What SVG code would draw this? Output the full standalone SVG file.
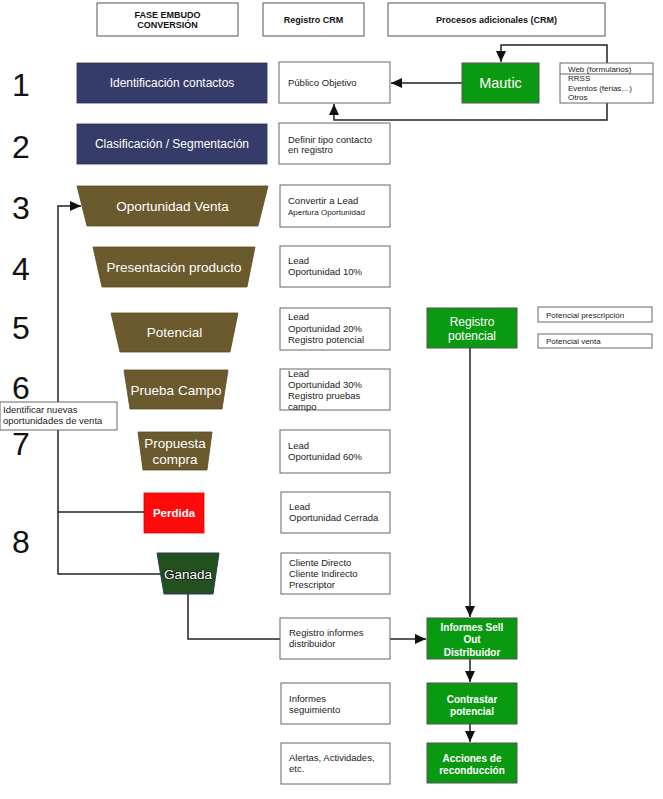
<svg xmlns="http://www.w3.org/2000/svg" width="663" height="799" viewBox="0 0 663 799">
<defs>
<marker id="arr" markerUnits="userSpaceOnUse" markerWidth="11" markerHeight="10" refX="11" refY="5" orient="auto">
<path d="M0,0 L11,5 L0,10 z" fill="#111"/>
</marker>
<style>
text{font-family:"Liberation Sans",Arial,sans-serif}
.hdr{fill:#fff;stroke:#555;stroke-width:1}
.ht{font-size:9px;font-weight:bold;fill:#111;text-anchor:middle}
.num{font-size:32px;fill:#111}
.navy{fill:#363c69;stroke:#2a2f55;stroke-width:0.8}
.brown{fill:#6b5a2d;stroke:#5a4b22;stroke-width:0.8}
.green{fill:#0a9a12;stroke:#555;stroke-width:1}
.box{fill:#fff;stroke:#666;stroke-width:1}
.nt{fill:#fff;text-anchor:middle}
.bt{font-size:9.5px;fill:#222}
.st{font-size:8px;fill:#222}
.gt{font-size:10px;font-weight:bold;fill:#fff;text-anchor:middle}
.conn{fill:none;stroke:#222;stroke-width:1.5}
</style>
</defs>

<g id="headers">
<rect class="hdr" x="97" y="3" width="141" height="33"/>
<text class="ht" x="167.5" y="18">FASE EMBUDO</text>
<text class="ht" x="167.5" y="28">CONVERSIÓN</text>
<rect class="hdr" x="263" y="3" width="101" height="33"/>
<text class="ht" x="313.5" y="23">Registro CRM</text>
<rect class="hdr" x="388" y="3" width="217" height="33"/>
<text class="ht" x="496.5" y="23">Procesos adicionales (CRM)</text>
</g>

<g id="numbers">
<text class="num" x="12" y="96">1</text>
<text class="num" x="12" y="158">2</text>
<text class="num" x="12" y="219">3</text>
<text class="num" x="12" y="280">4</text>
<text class="num" x="12" y="339">5</text>
<text class="num" x="12" y="399">6</text>
<text class="num" x="12" y="455">7</text>
<text class="num" x="12" y="553">8</text>
</g>

<g id="connectors">
<path class="conn" d="M462,83 H391" marker-end="url(#arr)"/>
<path class="conn" d="M607,63 V45 H501 V62" marker-end="url(#arr)"/>
<path class="conn" d="M607,103 V120 H334 V104" marker-end="url(#arr)"/>
<path class="conn" d="M162,574 H58 V206 H81" marker-end="url(#arr)"/>
<path class="conn" d="M144,512 H58"/>
<path class="conn" d="M188,594 V639 H280"/>
<path class="conn" d="M390,639 H426" marker-end="url(#arr)"/>
<path class="conn" d="M470,348 V617" marker-end="url(#arr)"/>
<path class="conn" d="M470,659 V682" marker-end="url(#arr)"/>
<path class="conn" d="M470,724 V742" marker-end="url(#arr)"/>
</g>

<g id="n-identificacion">
<rect class="navy" x="77" y="63" width="190" height="40"/>
<text class="nt" x="172" y="87" font-size="12">Identificación contactos</text>
</g>
<g id="n-clasificacion">
<rect class="navy" x="77" y="124" width="190" height="40"/>
<text class="nt" x="172" y="148" font-size="12">Clasificación / Segmentación</text>
</g>
<g id="n-oportunidad">
<polygon class="brown" points="77,186 268,186 258,226 87,226"/>
<text class="nt" x="172.5" y="211" font-size="13.5">Oportunidad Venta</text>
</g>
<g id="n-presentacion">
<polygon class="brown" points="93,247 255,247 247,287 102,287"/>
<text class="nt" x="174" y="272" font-size="13.5">Presentación producto</text>
</g>
<g id="n-potencial">
<polygon class="brown" points="111,313 238,313 230,352 120,352"/>
<text class="nt" x="174.5" y="337" font-size="13.5">Potencial</text>
</g>
<g id="n-prueba">
<polygon class="brown" points="124,370 228,370 222,409 130,409"/>
<text class="nt" x="176" y="395" font-size="13.5">Prueba Campo</text>
</g>
<g id="n-propuesta">
<polygon class="brown" points="138,432 212,432 207,470 143,470"/>
<text class="nt" x="175" y="448" font-size="13.5">Propuesta</text>
<text class="nt" x="175" y="464" font-size="13.5">compra</text>
</g>
<g id="n-perdida">
<rect x="144" y="493" width="60" height="40" fill="#ff0a0a" stroke="#d00" stroke-width="0.8"/>
<text class="nt" x="174" y="517" font-size="11.5" font-weight="bold">Perdida</text>
</g>
<g id="n-ganada">
<polygon points="157,553 219,553 213,594 164,594" fill="#22501f" stroke="#2a3d5c" stroke-width="1"/>
<text class="nt" x="188" y="579" font-size="13.5" stroke="#142014" stroke-width="1.6" paint-order="stroke fill" stroke-linejoin="round">Ganada</text>
</g>

<g id="n-identificar">
<rect class="box" x="0" y="402" width="117" height="28"/>
<text class="bt" x="3" y="413">Identificar nuevas</text>
<text class="bt" x="3" y="424">oportunidades de venta</text>
</g>

<g id="c-publico">
<rect class="box" x="279" y="62" width="111" height="41"/>
<text class="bt" x="288" y="86">Público Objetivo</text>
</g>
<g id="c-definir">
<rect class="box" x="279" y="123" width="111" height="41"/>
<text class="bt" x="288" y="142.5">Definir tipo contacto</text>
<text class="bt" x="288" y="152.5">en registro</text>
</g>
<g id="c-convertir">
<rect class="box" x="280" y="185" width="110" height="42"/>
<text class="bt" x="288" y="204">Convertir a Lead</text>
<text class="st" x="288" y="215">Apertura Oportunidad</text>
</g>
<g id="c-op10">
<rect class="box" x="280" y="246" width="110" height="41"/>
<text class="bt" x="288" y="264">Lead</text>
<text class="bt" x="288" y="275">Oportunidad 10%</text>
</g>
<g id="c-op20">
<rect class="box" x="280" y="308" width="110" height="42"/>
<text class="bt" x="288" y="320">Lead</text>
<text class="bt" x="288" y="332">Oportunidad 20%</text>
<text class="bt" x="288" y="343">Registro potencial</text>
</g>
<g id="c-op30">
<rect class="box" x="280" y="369" width="110" height="41"/>
<text class="bt" x="288" y="377">Lead</text>
<text class="bt" x="288" y="388">Oportunidad 30%</text>
<text class="bt" x="288" y="399">Registro pruebas</text>
<text class="bt" x="288" y="410">campo</text>
</g>
<g id="c-op60">
<rect class="box" x="280" y="430" width="110" height="43"/>
<text class="bt" x="288" y="449">Lead</text>
<text class="bt" x="288" y="460">Oportunidad 60%</text>
</g>
<g id="c-cerrada">
<rect class="box" x="281" y="492" width="109" height="41"/>
<text class="bt" x="289" y="510">Lead</text>
<text class="bt" x="289" y="521">Oportunidad Cerrada</text>
</g>
<g id="c-cliente">
<rect class="box" x="281" y="553" width="109" height="41"/>
<text class="bt" x="289" y="566">Cliente Directo</text>
<text class="bt" x="289" y="577">Cliente Indirecto</text>
<text class="bt" x="289" y="588">Prescriptor</text>
</g>
<g id="c-registro-informes">
<rect class="box" x="280" y="618" width="110" height="41"/>
<text class="bt" x="289" y="636">Registro informes</text>
<text class="bt" x="289" y="647">distribuidor</text>
</g>
<g id="c-seguimiento">
<rect class="box" x="281" y="683" width="109" height="41"/>
<text class="bt" x="289" y="702">Informes</text>
<text class="bt" x="289" y="713">seguimiento</text>
</g>
<g id="c-alertas">
<rect class="box" x="281" y="743" width="109" height="41"/>
<text class="bt" x="289" y="761">Alertas, Actividades,</text>
<text class="bt" x="289" y="772">etc.</text>
</g>

<g id="p-mautic">
<rect class="green" x="462" y="63" width="77" height="40"/>
<text class="nt" x="500.5" y="88" font-size="14.5">Mautic</text>
</g>
<g id="p-fuentes">
<rect class="box" x="560" y="63" width="93" height="40"/>
<line x1="560" y1="74" x2="653" y2="74" stroke="#666" stroke-width="1"/>
<text class="st" x="568" y="71.5">Web (formularios)</text>
<text class="st" x="568" y="81">RRSS</text>
<text class="st" x="568" y="90.5">Eventos (ferias…)</text>
<text class="st" x="568" y="100">Otros</text>
</g>
<g id="p-registro-potencial">
<rect class="green" x="427" y="308" width="90" height="40"/>
<text class="nt" x="472" y="326" font-size="12">Registro</text>
<text class="nt" x="472" y="340" font-size="12">potencial</text>
</g>
<g id="p-prescripcion">
<rect class="box" x="538" y="307" width="114" height="15"/>
<text class="st" x="546" y="317.5">Potencial prescripción</text>
</g>
<g id="p-venta">
<rect class="box" x="538" y="334" width="114" height="14"/>
<text class="st" x="546" y="344">Potencial venta</text>
</g>
<g id="p-informes-sell">
<rect class="green" x="427" y="618" width="90" height="41"/>
<text class="gt" x="472" y="630.5">Informes Sell</text>
<text class="gt" x="472" y="643">Out</text>
<text class="gt" x="472" y="655.5">Distribuidor</text>
</g>
<g id="p-contrastar">
<rect class="green" x="427" y="683" width="90" height="41"/>
<text class="gt" x="472" y="703">Contrastar</text>
<text class="gt" x="472" y="715">potencial</text>
</g>
<g id="p-acciones">
<rect class="green" x="427" y="743" width="90" height="40"/>
<text class="gt" x="472" y="762">Acciones de</text>
<text class="gt" x="472" y="774">reconducción</text>
</g>
</svg>
